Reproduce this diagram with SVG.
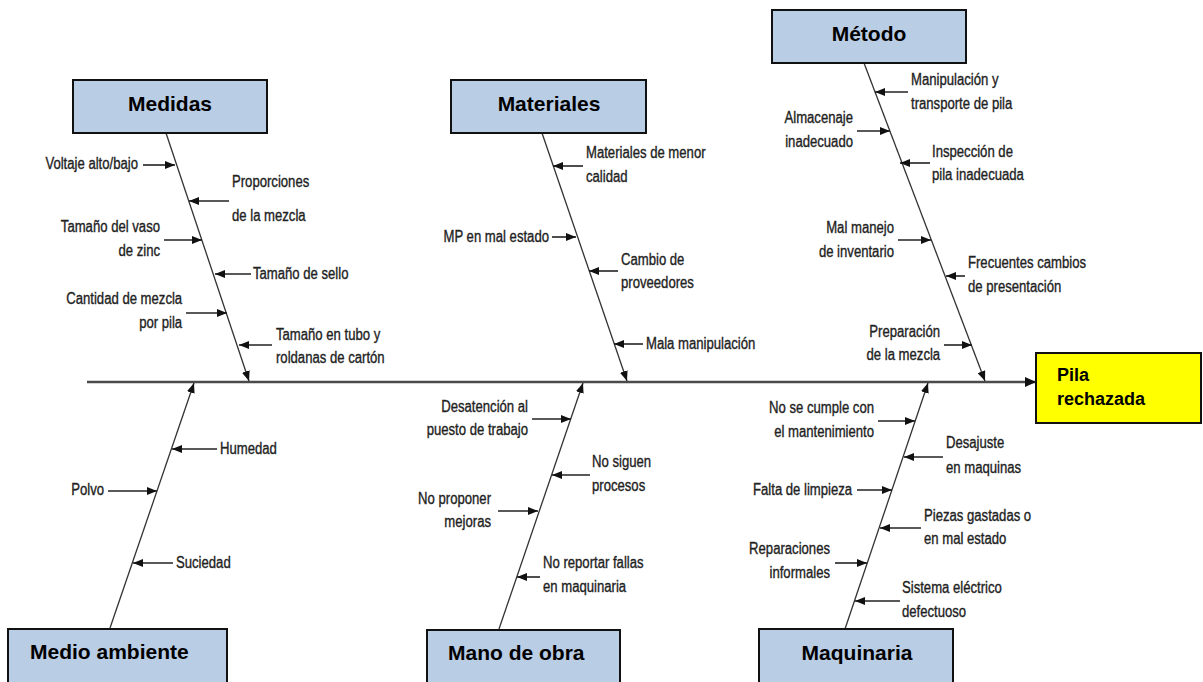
<svg xmlns="http://www.w3.org/2000/svg" width="1203" height="682" viewBox="0 0 1203 682">
  <style>
    .box { fill: #b9cde5; stroke: #111; stroke-width: 2; }
    .effect { fill: #ffff00; stroke: #111; stroke-width: 2; }
    .head { font-family: "Liberation Sans", Arial, sans-serif; font-weight: bold; font-size: 21px; fill: #000; }
    .eff { font-family: "Liberation Sans", Arial, sans-serif; font-weight: bold; font-size: 18px; fill: #000; }
    /* narrow cause labels: regular sans squeezed horizontally around the anchor side */
    .cause { font-family: "Liberation Sans", Arial, sans-serif; font-size: 16px; fill: #222; stroke: #222; stroke-width: 0.35;
             transform-box: fill-box; transform-origin: left center; transform: scaleX(0.82); }
    .end { text-anchor: end; transform-origin: right center; }
    .spine { stroke: #4a4a4a; stroke-width: 2.6; fill: none; marker-end: url(#bigtip); }
    .bone { stroke: #333; stroke-width: 1.3; fill: none; marker-end: url(#tip); }
    .sub { stroke: #222; stroke-width: 1.6; fill: none; marker-end: url(#tip); }
  </style>
  <defs>
    <marker id="tip" markerUnits="userSpaceOnUse" markerWidth="10" markerHeight="8" refX="10" refY="4" orient="auto">
      <path d="M0,0 L10,4 L0,8 Z" fill="#111"/>
    </marker>
    <marker id="bigtip" markerUnits="userSpaceOnUse" markerWidth="11" markerHeight="10" refX="11" refY="5" orient="auto">
      <path d="M0,0 L11,5 L0,10 Z" fill="#111"/>
    </marker>
  </defs>

  <rect width="1203" height="682" fill="#fff"/>

  <!-- connectors: spine, category bones and cause arrows -->
  <g id="connectors">
    <path class="spine" d="M87,382 L1036,382"/>

    <path class="bone" d="M166,133 L249,381"/>
    <path class="bone" d="M542,133 L627,381"/>
    <path class="bone" d="M864,63 L985,381"/>
    <path class="bone" d="M110,628 L194,383"/>
    <path class="bone" d="M499,629 L583,383"/>
    <path class="bone" d="M845,629 L928,383"/>

    <!-- Medidas -->
    <path class="sub" d="M143,165 L175,165"/>
    <path class="sub" d="M229,201 L189,201"/>
    <path class="sub" d="M164,240 L202,240"/>
    <path class="sub" d="M251,274 L215,274"/>
    <path class="sub" d="M186,313 L227,313"/>
    <path class="sub" d="M272,345 L239,345"/>
    <!-- Materiales -->
    <path class="sub" d="M583,166 L553,166"/>
    <path class="sub" d="M552,237 L576,237"/>
    <path class="sub" d="M618,271 L589,271"/>
    <path class="sub" d="M643,344 L614,344"/>
    <!-- Método -->
    <path class="sub" d="M908,92 L875,92"/>
    <path class="sub" d="M857,131 L890,131"/>
    <path class="sub" d="M930,163 L900,163"/>
    <path class="sub" d="M898,240 L931,240"/>
    <path class="sub" d="M965,276 L946,276"/>
    <path class="sub" d="M944,345 L972,345"/>
    <!-- Medio ambiente -->
    <path class="sub" d="M217,449 L172,449"/>
    <path class="sub" d="M108,491 L157,491"/>
    <path class="sub" d="M173,563 L133,563"/>
    <!-- Mano de obra -->
    <path class="sub" d="M532,419 L571,419"/>
    <path class="sub" d="M590,475 L552,475"/>
    <path class="sub" d="M498,511 L538,511"/>
    <path class="sub" d="M540,577 L517,577"/>
    <!-- Maquinaria -->
    <path class="sub" d="M878,421 L915,421"/>
    <path class="sub" d="M943,457 L904,457"/>
    <path class="sub" d="M857,490 L892,490"/>
    <path class="sub" d="M921,528 L880,528"/>
    <path class="sub" d="M835,563 L867,563"/>
    <path class="sub" d="M900,601 L855,601"/>
  </g>

  <!-- category and effect boxes -->
  <g id="cat-medidas">
    <rect class="box" x="73" y="80" width="194" height="53"/>
    <text class="head" x="170" y="111" text-anchor="middle">Medidas</text>
  </g>
  <g id="cat-materiales">
    <rect class="box" x="451" y="80" width="195" height="53"/>
    <text class="head" x="549" y="111" text-anchor="middle">Materiales</text>
  </g>
  <g id="cat-metodo">
    <rect class="box" x="772" y="10" width="194" height="53"/>
    <text class="head" x="869" y="41" text-anchor="middle">Método</text>
  </g>
  <g id="cat-medio-ambiente">
    <rect class="box" x="8" y="629" width="219" height="62"/>
    <text class="head" x="30" y="659">Medio ambiente</text>
  </g>
  <g id="cat-mano-de-obra">
    <rect class="box" x="427" y="630" width="193" height="62"/>
    <text class="head" x="448" y="660">Mano de obra</text>
  </g>
  <g id="cat-maquinaria">
    <rect class="box" x="759" y="629" width="194" height="62"/>
    <text class="head" x="857" y="660" text-anchor="middle">Maquinaria</text>
  </g>
  <g id="effect">
    <rect class="effect" x="1036" y="353" width="165" height="70"/>
    <text class="eff" x="1057" y="381">Pila</text>
    <text class="eff" x="1057" y="405">rechazada</text>
  </g>

  <!-- causes: Medidas -->
  <g id="c-voltaje"><text class="cause end" x="138" y="169">Voltaje alto/bajo</text></g>
  <g id="c-proporciones"><text class="cause" x="232" y="187">Proporciones</text><text class="cause" x="232" y="221">de la mezcla</text></g>
  <g id="c-vaso"><text class="cause end" x="160" y="232">Tamaño del vaso</text><text class="cause end" x="160" y="256">de zinc</text></g>
  <g id="c-sello"><text class="cause" x="253" y="279">Tamaño de sello</text></g>
  <g id="c-cantidad"><text class="cause end" x="182" y="304">Cantidad de mezcla</text><text class="cause end" x="182" y="328">por pila</text></g>
  <g id="c-tubo"><text class="cause" x="276" y="340">Tamaño en tubo y</text><text class="cause" x="276" y="363">roldanas de cartón</text></g>

  <!-- causes: Materiales -->
  <g id="c-menor-calidad"><text class="cause" x="586" y="158">Materiales de menor</text><text class="cause" x="586" y="182">calidad</text></g>
  <g id="c-mp"><text class="cause end" x="549" y="242">MP en mal estado</text></g>
  <g id="c-proveedores"><text class="cause" x="621" y="265">Cambio de</text><text class="cause" x="621" y="288">proveedores</text></g>
  <g id="c-mala-manip"><text class="cause" x="646" y="349">Mala manipulación</text></g>

  <!-- causes: Método -->
  <g id="c-transporte"><text class="cause" x="911" y="85">Manipulación y</text><text class="cause" x="911" y="109">transporte de pila</text></g>
  <g id="c-almacenaje"><text class="cause end" x="853" y="123">Almacenaje</text><text class="cause end" x="853" y="147">inadecuado</text></g>
  <g id="c-inspeccion"><text class="cause" x="932" y="157">Inspección de</text><text class="cause" x="932" y="180">pila inadecuada</text></g>
  <g id="c-inventario"><text class="cause end" x="894" y="233">Mal manejo</text><text class="cause end" x="894" y="257">de inventario</text></g>
  <g id="c-presentacion"><text class="cause" x="968" y="268">Frecuentes cambios</text><text class="cause" x="968" y="292">de presentación</text></g>
  <g id="c-preparacion"><text class="cause end" x="940" y="337">Preparación</text><text class="cause end" x="940" y="360">de la mezcla</text></g>

  <!-- causes: Medio ambiente -->
  <g id="c-humedad"><text class="cause" x="220" y="454">Humedad</text></g>
  <g id="c-polvo"><text class="cause end" x="104" y="495">Polvo</text></g>
  <g id="c-suciedad"><text class="cause" x="176" y="568">Suciedad</text></g>

  <!-- causes: Mano de obra -->
  <g id="c-desatencion"><text class="cause end" x="528" y="412">Desatención al</text><text class="cause end" x="528" y="435">puesto de trabajo</text></g>
  <g id="c-procesos"><text class="cause" x="592" y="467">No siguen</text><text class="cause" x="592" y="491">procesos</text></g>
  <g id="c-mejoras"><text class="cause end" x="491" y="504">No proponer</text><text class="cause end" x="491" y="527">mejoras</text></g>
  <g id="c-reportar"><text class="cause" x="543" y="568">No reportar fallas</text><text class="cause" x="543" y="592">en maquinaria</text></g>

  <!-- causes: Maquinaria -->
  <g id="c-mantenimiento"><text class="cause end" x="874" y="413">No se cumple con</text><text class="cause end" x="874" y="437">el mantenimiento</text></g>
  <g id="c-desajuste"><text class="cause" x="946" y="448">Desajuste</text><text class="cause" x="946" y="473">en maquinas</text></g>
  <g id="c-limpieza"><text class="cause end" x="852" y="495">Falta de limpieza</text></g>
  <g id="c-piezas"><text class="cause" x="924" y="521">Piezas gastadas o</text><text class="cause" x="924" y="544">en mal estado</text></g>
  <g id="c-reparaciones"><text class="cause end" x="830" y="554">Reparaciones</text><text class="cause end" x="830" y="578">informales</text></g>
  <g id="c-electrico"><text class="cause" x="902" y="593">Sistema eléctrico</text><text class="cause" x="902" y="617">defectuoso</text></g>
</svg>
